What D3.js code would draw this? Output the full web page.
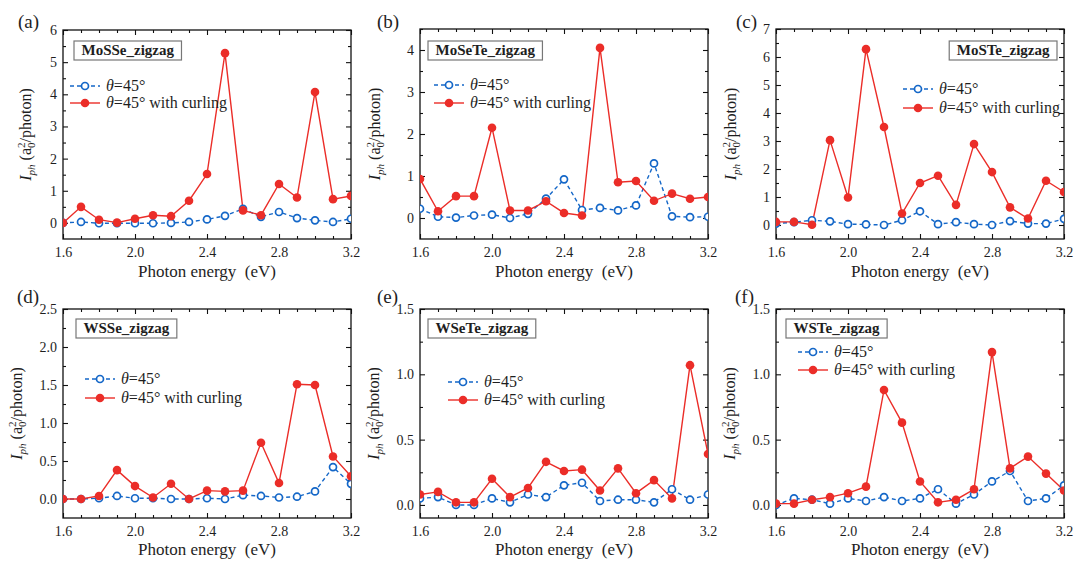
<!DOCTYPE html>
<html><head><meta charset="utf-8">
<script src="https://cdn.jsdelivr.net/npm/d3@7"></script>
<style>
body{margin:0;background:#fff}
svg{display:block}
svg text{font-family:"Times New Roman","Liberation Serif","DejaVu Serif",serif !important}
</style>
</head><body>
<svg id="chart" width="1080" height="570"></svg>
<script>
// ---------------- data ----------------
const energy = [1.6,1.7,1.8,1.9,2.0,2.1,2.2,2.3,2.4,2.5,2.6,2.7,2.8,2.9,3.0,3.1,3.2];
const xTicks = [1.6,2.0,2.4,2.8,3.2];
const xTickLabels = ["1.6","2.0","2.4","2.8","3.2"];
const panelLetters = ["(a)","(b)","(c)","(d)","(e)","(f)"];
const materials = ["MoSSe_zigzag","MoSeTe_zigzag","MoSTe_zigzag","WSSe_zigzag","WSeTe_zigzag","WSTe_zigzag"];
const seriesNames = ["\u03b8=45\u00b0","\u03b8=45\u00b0 with curling"];

const yDomainA = [-0.5,6],  yTicksA = [0,1,2,3,4,5,6];
const yDomainB = [-0.5,4.5], yTicksB = [0,1,2,3,4];
const yDomainC = [-0.5,7],  yTicksC = [0,1,2,3,4,5,6,7];
const yDomainD = [-0.25,2.5], yTicksD = [0,0.5,1.0,1.5,2.0,2.5];
const yDomainE = [-0.1,1.5], yTicksE = [0,0.5,1.0,1.5];
const yDomainF = [-0.1,1.5], yTicksF = [0,0.5,1.0,1.5];

const baseA = [0.0,0.03,-0.01,-0.01,-0.01,-0.01,0.0,0.03,0.11,0.22,0.44,0.19,0.34,0.15,0.08,0.03,0.13];
const curlA = [0.0,0.50,0.10,0.01,0.13,0.24,0.21,0.69,1.52,5.28,0.39,0.24,1.21,0.79,4.07,0.74,0.84];

const baseB = [0.22,0.03,0.01,0.06,0.08,0.0,0.10,0.46,0.92,0.19,0.24,0.18,0.30,1.30,0.04,0.02,0.03];
const curlB = [0.93,0.16,0.52,0.52,2.15,0.18,0.18,0.40,0.12,0.06,4.05,0.85,0.88,0.41,0.58,0.46,0.50];

const baseC = [0.05,0.10,0.17,0.13,0.03,0.02,0.0,0.17,0.49,0.03,0.10,0.03,0.0,0.14,0.05,0.05,0.22];
const curlC = [0.11,0.11,0.01,3.03,0.98,6.28,3.50,0.41,1.50,1.76,0.72,2.89,1.89,0.63,0.23,1.58,1.18];

const baseD = [0.0,0.0,0.01,0.04,0.01,0.01,0.0,0.0,0.01,0.0,0.05,0.04,0.02,0.03,0.10,0.42,0.20];
const curlD = [0.0,0.0,0.04,0.38,0.17,0.02,0.20,0.0,0.11,0.10,0.11,0.74,0.21,1.51,1.50,0.56,0.30];

const baseE = [0.05,0.06,0.0,0.0,0.05,0.02,0.08,0.06,0.15,0.17,0.03,0.04,0.04,0.02,0.12,0.04,0.08];
const curlE = [0.08,0.10,0.02,0.02,0.20,0.06,0.13,0.33,0.26,0.27,0.11,0.28,0.09,0.19,0.05,1.07,0.39];

const baseF = [0.0,0.05,0.04,0.01,0.05,0.03,0.06,0.03,0.05,0.12,0.01,0.08,0.18,0.26,0.03,0.05,0.15];
const curlF = [0.01,0.01,0.04,0.06,0.09,0.14,0.88,0.63,0.18,0.02,0.04,0.12,1.17,0.28,0.37,0.24,0.11];

// ---------------- layout / style ----------------
const panels = [
  {dom:yDomainA, ticks:yTicksA, base:baseA, curl:curlA, fmt:"d"},
  {dom:yDomainB, ticks:yTicksB, base:baseB, curl:curlB, fmt:"d"},
  {dom:yDomainC, ticks:yTicksC, base:baseC, curl:curlC, fmt:"d"},
  {dom:yDomainD, ticks:yTicksD, base:baseD, curl:curlD, fmt:".1f"},
  {dom:yDomainE, ticks:yTicksE, base:baseE, curl:curlE, fmt:".1f"},
  {dom:yDomainF, ticks:yTicksF, base:baseF, curl:curlF, fmt:".1f"}
];
const layout = [
  {l:63, r:351, t:30, b:239, ytOff:32, xtOff:38, box:[74,41,"start"],   leg:[70,86,103],  lab:[18,28]},
  {l:420,r:708, t:29, b:239, ytOff:40, xtOff:38, box:[428,41,"start"],  leg:[434,85,103], lab:[377,28]},
  {l:776,r:1064,t:29, b:239, ytOff:40, xtOff:38, box:[1057,41,"end"],   leg:[903,89,108], lab:[736,28]},
  {l:63, r:351, t:309,b:518, ytOff:41, xtOff:37, box:[76,319,"start"],  leg:[85,379,398], lab:[17,303]},
  {l:420,r:708, t:309,b:518, ytOff:41, xtOff:37, box:[428,319,"start"], leg:[448,382,400],lab:[377,303]},
  {l:776,r:1064,t:309,b:518, ytOff:41, xtOff:37, box:[786,319,"start"], leg:[798,352,370],lab:[735,303]}
];
const BLUE = "#1467c8", RED = "#eb2d28", TXT = "#1e1e1e";
const FONT = "'Times New Roman','Liberation Serif','DejaVu Serif',serif";

const svg = d3.select("#chart");

panels.forEach((p, i) => {
  const L = layout[i];
  const x = d3.scaleLinear().domain([1.6,3.2]).range([L.l, L.r]);
  const y = d3.scaleLinear().domain(p.dom).range([L.b, L.t]);
  const g = svg.append("g").style("font-family", FONT);
  const step = p.ticks[1]-p.ticks[0];
  const yMinor = d3.range(0, p.dom[1]+1e-9, step/2).filter(v => !p.ticks.some(t => Math.abs(t-v)<1e-9));
  const xMinor = energy.filter(v => !xTicks.some(t => Math.abs(t-v)<1e-9));

  const cid = "clip"+i;
  svg.append("clipPath").attr("id",cid).append("rect")
    .attr("x",L.l).attr("y",L.t).attr("width",L.r-L.l).attr("height",L.b-L.t);

  const styleAxis = sel => {
    sel.attr("font-family", null).style("font-family", FONT);
    sel.select(".domain").remove();
    sel.selectAll("line").attr("stroke","#111").attr("stroke-width",1.1);
    sel.selectAll("text").attr("font-size",14).attr("fill",TXT).style("font-family", FONT);
  };
  g.append("g").attr("transform",`translate(0,${L.b})`)
    .call(d3.axisBottom(x).tickValues(xTicks).tickFormat((d,k)=>xTickLabels[k]).tickSize(-5).tickPadding(8)).call(styleAxis);
  g.append("g").attr("transform",`translate(0,${L.b})`)
    .call(d3.axisBottom(x).tickValues(xMinor).tickFormat("").tickSize(-3)).call(styleAxis);
  g.append("g").attr("transform",`translate(0,${L.t})`)
    .call(d3.axisTop(x).tickValues(xTicks).tickFormat("").tickSize(-5)).call(styleAxis);
  g.append("g").attr("transform",`translate(0,${L.t})`)
    .call(d3.axisTop(x).tickValues(xMinor).tickFormat("").tickSize(-3)).call(styleAxis);
  g.append("g").attr("transform",`translate(${L.l},0)`)
    .call(d3.axisLeft(y).tickValues(p.ticks).tickFormat(d3.format(p.fmt)).tickSize(-5).tickPadding(6)).call(styleAxis);
  g.append("g").attr("transform",`translate(${L.l},0)`)
    .call(d3.axisLeft(y).tickValues(yMinor).tickFormat("").tickSize(-3)).call(styleAxis);
  g.append("g").attr("transform",`translate(${L.r},0)`)
    .call(d3.axisRight(y).tickValues(p.ticks).tickFormat("").tickSize(-5)).call(styleAxis);
  g.append("g").attr("transform",`translate(${L.r},0)`)
    .call(d3.axisRight(y).tickValues(yMinor).tickFormat("").tickSize(-3)).call(styleAxis);

  g.append("rect").attr("x",L.l).attr("y",L.t).attr("width",L.r-L.l).attr("height",L.b-L.t)
    .attr("fill","none").attr("stroke","#111").attr("stroke-width",1.3);

  const dg = g.append("g").attr("clip-path",`url(#${cid})`);
  const line = d3.line().x((d,k)=>x(energy[k])).y(d=>y(d));
  dg.append("path").datum(p.base).attr("d",line).attr("fill","none")
    .attr("stroke",BLUE).attr("stroke-width",1.4).attr("stroke-dasharray","4,3");
  dg.append("path").datum(p.curl).attr("d",line).attr("fill","none")
    .attr("stroke",RED).attr("stroke-width",1.4);
  dg.selectAll(".pb").data(p.base).join("circle")
    .attr("cx",(d,k)=>x(energy[k])).attr("cy",d=>y(d)).attr("r",3.5)
    .attr("fill","#fff").attr("stroke",BLUE).attr("stroke-width",1.7);
  dg.selectAll(".pr").data(p.curl).join("circle")
    .attr("cx",(d,k)=>x(energy[k])).attr("cy",d=>y(d)).attr("r",4.3)
    .attr("fill",RED);

  g.append("text").attr("x",L.lab[0]-L.l+L.l).attr("y",L.lab[1]).attr("font-size",19)
    .attr("fill",TXT).text(panelLetters[i]);

  g.append("text").attr("x",(L.l+L.r)/2).attr("y",L.b+L.xtOff).attr("text-anchor","middle")
    .attr("font-size",17).attr("fill",TXT).style("white-space","pre").text("Photon energy  (eV)");

  const yt = g.append("text").attr("transform",`translate(${L.l-L.ytOff},${(L.t+L.b)/2}) rotate(-90)`)
    .attr("text-anchor","middle").attr("font-size",16).attr("fill",TXT);
  yt.append("tspan").attr("font-style","italic").text("I");
  yt.append("tspan").attr("font-style","italic").attr("font-size",11).attr("dy",4).text("ph");
  yt.append("tspan").attr("dy",-4).style("white-space","pre").text(" (a");
  yt.append("tspan").attr("font-size",11).attr("dy",-6).text("2");
  yt.append("tspan").attr("font-size",11).attr("dx",-5.5).attr("dy",10).text("0");
  yt.append("tspan").attr("dy",-4).text("/photon)");

  const bt = g.append("text").attr("font-size",15).attr("font-weight","bold").attr("fill",TXT)
    .attr("y",L.box[1]+14).text(materials[i]);
  const tw = bt.node().getComputedTextLength();
  const bw = tw + 15, bh = 19;
  const bx = L.box[2]==="end" ? L.box[0]-bw : L.box[0];
  bt.attr("x", bx + 7.5);
  g.insert("rect", () => bt.node()).attr("x",bx).attr("y",L.box[1]).attr("width",bw).attr("height",bh)
    .attr("fill","#fff").attr("stroke","#777").attr("stroke-width",1.2);

  const [lx, ly1, ly2] = L.leg;
  const lg = g.append("g");
  lg.append("line").attr("x1",lx).attr("x2",lx+30).attr("y1",ly1).attr("y2",ly1)
    .attr("stroke",BLUE).attr("stroke-width",1.4).attr("stroke-dasharray","4,3");
  lg.append("circle").attr("cx",lx+15).attr("cy",ly1).attr("r",3.5)
    .attr("fill","#fff").attr("stroke",BLUE).attr("stroke-width",1.7);
  lg.append("line").attr("x1",lx).attr("x2",lx+30).attr("y1",ly2).attr("y2",ly2)
    .attr("stroke",RED).attr("stroke-width",1.4);
  lg.append("circle").attr("cx",lx+15).attr("cy",ly2).attr("r",4.3).attr("fill",RED);
  [ly1, ly2].forEach((ly, k) => {
    const t = lg.append("text").attr("x",lx+36).attr("y",ly+5).attr("font-size",16).attr("fill",TXT);
    t.append("tspan").attr("font-style","italic").text(seriesNames[k].charAt(0));
    t.append("tspan").style("white-space","pre").text(seriesNames[k].slice(1));
  });
});
</script>
</body></html>
